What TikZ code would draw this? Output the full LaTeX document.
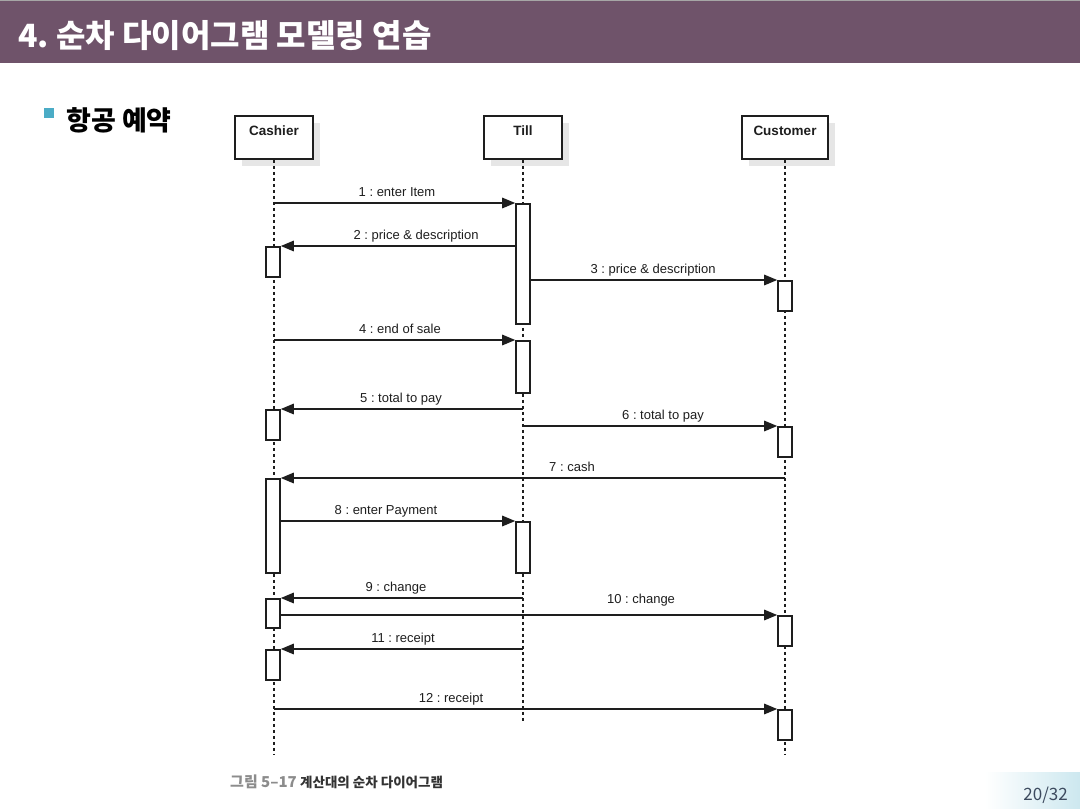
\documentclass[tikz,border=0pt]{standalone}
\usepackage{fontspec}
\setmainfont{Liberation Sans}
\newfontfamily\kr{Noto Sans CJK KR}
\usetikzlibrary{arrows.meta,calc,shadows}
\frenchspacing
\definecolor{hdr}{HTML}{6F536A}
\definecolor{bul}{HTML}{4BACC6}
\definecolor{shd}{HTML}{E6E6E6}
\definecolor{pgnum}{HTML}{3C4A5E}
\definecolor{ink}{HTML}{1E1E1E}
\tikzset{
  obj/.style={draw=ink, line width=1.6pt, fill=white, inner sep=0pt, minimum height=43pt,
              general shadow={fill=shd, shadow xshift=7pt, shadow yshift=-7pt}},
  objname/.style={font=\bfseries\fontsize{13.5}{16}\selectfont, anchor=base, inner sep=0pt, text=ink},
  act/.style={draw=ink, line width=1.6pt, fill=white, inner sep=0pt, minimum width=14pt, anchor=north},
  life/.style={draw=ink, line width=1.3pt, dash pattern=on 3pt off 3pt},
  msg/.style={draw=ink, line width=1.5pt, -{Triangle[length=13pt,width=10.5pt]}},
  lbl/.style={font=\frenchspacing\fontsize{13}{15}\selectfont, text=ink, anchor=base, inner sep=0pt},
}
\begin{document}
\frenchspacing
\begin{tikzpicture}[x=1pt,y=-1pt]
\useasboundingbox (0,0) rectangle (1080,809);
\fill[white] (0,0) rectangle (1080,809);
% header
\fill[hdr] (0,0) rectangle (1080,63);
\fill[black!35] (0,0) rectangle (1080,1.2);
\node[anchor=base west, text=white, font=\kr\bfseries\fontsize{32}{36}\selectfont, inner sep=0pt] (title) at (18,47) {4. 순차 다이어그램 모델링 연습};
\node[fill=bul, minimum size=10pt, inner sep=0pt, anchor=north west] (bullet) at (44,108) {};
\node[anchor=base west, font=\kr\bfseries\fontsize{27}{32}\selectfont, inner sep=0pt] (sub) at (66,130) {항공 예약};
% footer gradient
\shade[left color=white, right color=bul!28] (985,772) rectangle (1080,809);
\node[anchor=base east, font=\kr\fontsize{17}{20}\selectfont, text=pgnum, inner sep=0pt] (page) at (1068,800) {20/32};
\node[anchor=base west, inner sep=0pt, font=\kr\bfseries\fontsize{15}{18}\selectfont, text=black!45] (fig) at (230,787) {그림 5–17};
\node[anchor=base west, inner sep=0pt, font=\kr\bfseries\fontsize{13.5}{16}\selectfont, text=black!80] (cap) at (300,787) {계산대의 순차 다이어그램};
% objects
\node[obj, minimum width=78pt] (cashier) at (274,137.5) {};
\node[obj, minimum width=78pt] (till) at (523,137.5) {};
\node[obj, minimum width=86pt] (customer) at (785,137.5) {};
\node[objname] (cashierT) at (274,135) {Cashier};
\node[objname] (tillT) at (523,135) {Till};
\node[objname] (customerT) at (785,135) {Customer};
% lifeline ends
\coordinate (cashEnd) at (274,754);
\coordinate (tillEnd) at (523,723);
\coordinate (custEnd) at (785,754);
\draw[life] (cashier.south) -- (cashEnd);
\draw[life] (till.south) -- (tillEnd);
\draw[life] (customer.south) -- (custEnd);
% activations
\node[act, minimum height=120pt] (t1) at (523,203) {};
\node[act, minimum height=30pt] (k2) at (273,246) {};
\node[act, minimum height=30pt] (u3) at (785,280) {};
\node[act, minimum height=52pt] (t4) at (523,340) {};
\node[act, minimum height=30pt] (k5) at (273,409) {};
\node[act, minimum height=30pt] (u6) at (785,426) {};
\node[act, minimum height=94pt] (k7) at (273,478) {};
\node[act, minimum height=51pt] (t8) at (523,521) {};
\node[act, minimum height=29pt] (k9) at (273,598) {};
\node[act, minimum height=30pt] (u10) at (785,615) {};
\node[act, minimum height=30pt] (k11) at (273,649) {};
\node[act, minimum height=30pt] (u12) at (785,709) {};
% message start points on lifelines
\coordinate (c1) at (274,203);
\coordinate (c4) at (274,340);
\coordinate (d5) at (523,409);
\coordinate (d6) at (523,426);
\coordinate (e7) at (785,478);
\coordinate (d9) at (523,598);
\coordinate (d11) at (523,649);
\coordinate (c12) at (274,709);
% messages
\draw[msg] (c1) -- (t1.north west);
\draw[msg] (t1.west |- k2.north) -- (k2.north east);
\draw[msg] (t1.east |- u3.north) -- (u3.north west);
\draw[msg] (c4) -- (t4.north west);
\draw[msg] (d5) -- (k5.north east);
\draw[msg] (d6) -- (u6.north west);
\draw[msg] (e7) -- (k7.north east);
\draw[msg] (k7.east |- t8.north) -- (t8.north west);
\draw[msg] (d9) -- (k9.north east);
\draw[msg] (k9.east |- u10.north) -- (u10.north west);
\draw[msg] (d11) -- (k11.north east);
\draw[msg] (c12) -- (u12.north west);
% labels
\node[lbl] (l1) at (397,196.5) {1 : enter Item};
\node[lbl] (l2) at (416,239.5) {2 : price \& description};
\node[lbl] (l3) at (653,273.5) {3 : price \& description};
\node[lbl] (l4) at (400,333.5) {4 : end of sale};
\node[lbl] (l5) at (401,402.5) {5 : total to pay};
\node[lbl] (l6) at (663,419.5) {6 : total to pay};
\node[lbl] (l7) at (572,471.5) {7 : cash};
\node[lbl] (l8) at (386,514.5) {8 : enter Payment};
\node[lbl] (l9) at (396,591.5) {9 : change};
\node[lbl] (l10) at (641,603.5) {10 : change};
\node[lbl] (l11) at (403,642.5) {11 : receipt};
\node[lbl] (l12) at (451,702.5) {12 : receipt};
\end{tikzpicture}
\end{document}
